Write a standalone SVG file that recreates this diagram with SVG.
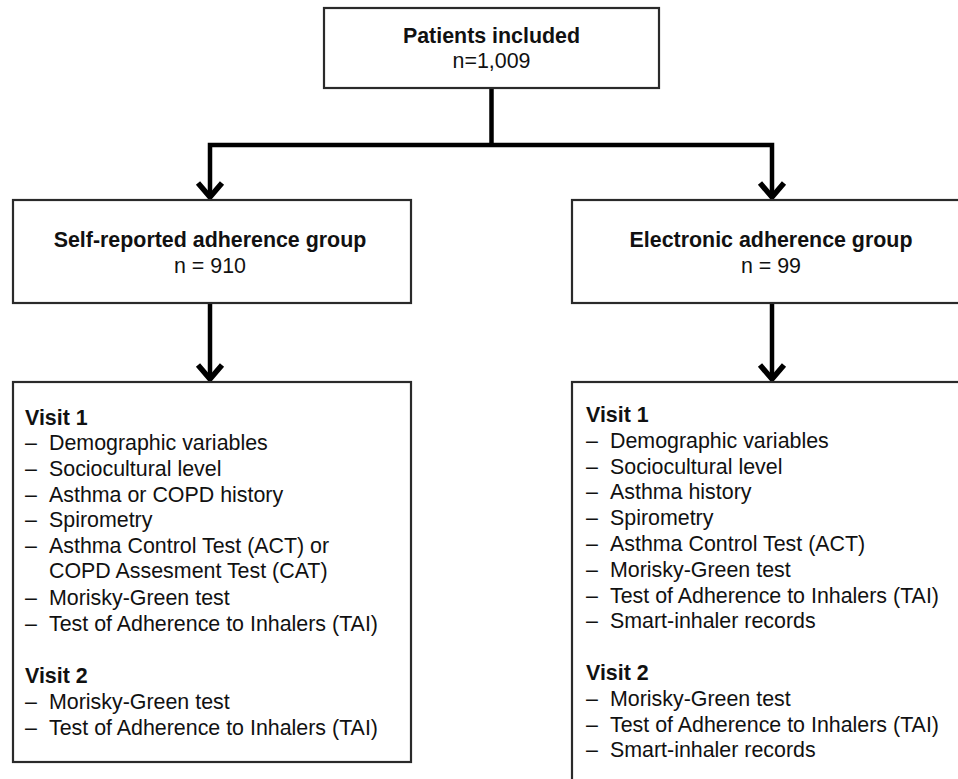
<svg xmlns="http://www.w3.org/2000/svg" width="958" height="779" viewBox="0 0 958 779">
<style>
.box{fill:#fff;stroke:#2a2a2a;stroke-width:2.2}
.t{font-family:"Liberation Sans",Arial,sans-serif;font-size:21.4px;fill:#111}
.b{font-weight:bold}
.c{text-anchor:middle}
.conn{fill:none;stroke:#000;stroke-width:4.5;stroke-linejoin:miter}
.ah{fill:none;stroke:#000;stroke-width:5.5;stroke-linejoin:miter;stroke-linecap:butt}
</style>
<rect width="958" height="779" fill="#fff"/>
<g id="connectors">
<path class="conn" d="M491.5 88 V145"/>
<path class="conn" d="M210 198 V145 H772 V198"/>
<path class="conn" d="M210 303 V380"/>
<path class="conn" d="M772 303 V380"/>
<path class="ah" d="M198 183 L210 197 L222 183"/>
<path class="ah" d="M760 183 L772 197 L784 183"/>
<path class="ah" d="M198 365 L210 379 L222 365"/>
<path class="ah" d="M760 365 L772 379 L784 365"/>
</g>
<g id="patients">
<rect class="box" x="324" y="8" width="335" height="80"/>
<text class="t b c" x="491.5" y="43">Patients included</text>
<text class="t c" x="491.5" y="68">n=1,009</text>
</g>
<g id="self-reported">
<rect class="box" x="13" y="200" width="398" height="103"/>
<text class="t b c" x="210" y="247">Self-reported adherence group</text>
<text class="t c" x="210" y="273">n = 910</text>
</g>
<g id="electronic">
<rect class="box" x="572" y="200" width="400" height="103"/>
<text class="t b c" x="771" y="247">Electronic adherence group</text>
<text class="t c" x="771" y="273">n = 99</text>
</g>
<g id="self-visits">
<rect class="box" x="13" y="382" width="398" height="380"/>
<text class="t b" x="25" y="425">Visit 1</text>
<g class="t">
<text x="25" y="450">–</text><text x="49" y="450">Demographic variables</text>
<text x="25" y="476">–</text><text x="49" y="476">Sociocultural level</text>
<text x="25" y="502">–</text><text x="49" y="502">Asthma or COPD history</text>
<text x="25" y="527">–</text><text x="49" y="527">Spirometry</text>
<text x="25" y="553">–</text><text x="49" y="553">Asthma Control Test (ACT) or</text>
<text x="49" y="578">COPD Assesment Test (CAT)</text>
<text x="25" y="605">–</text><text x="49" y="605">Morisky-Green test</text>
<text x="25" y="631">–</text><text x="49" y="631">Test of Adherence to Inhalers (TAI)</text>
</g>
<text class="t b" x="25" y="683">Visit 2</text>
<g class="t">
<text x="25" y="709">–</text><text x="49" y="709">Morisky-Green test</text>
<text x="25" y="735">–</text><text x="49" y="735">Test of Adherence to Inhalers (TAI)</text>
</g>
</g>
<g id="electronic-visits">
<rect class="box" x="572" y="382" width="400" height="420"/>
<text class="t b" x="586" y="422">Visit 1</text>
<g class="t">
<text x="586" y="448">–</text><text x="610" y="448">Demographic variables</text>
<text x="586" y="474">–</text><text x="610" y="474">Sociocultural level</text>
<text x="586" y="499">–</text><text x="610" y="499">Asthma history</text>
<text x="586" y="525">–</text><text x="610" y="525">Spirometry</text>
<text x="586" y="551">–</text><text x="610" y="551">Asthma Control Test (ACT)</text>
<text x="586" y="577">–</text><text x="610" y="577">Morisky-Green test</text>
<text x="586" y="603">–</text><text x="610" y="603">Test of Adherence to Inhalers (TAI)</text>
<text x="586" y="628">–</text><text x="610" y="628">Smart-inhaler records</text>
</g>
<text class="t b" x="586" y="680">Visit 2</text>
<g class="t">
<text x="586" y="706">–</text><text x="610" y="706">Morisky-Green test</text>
<text x="586" y="732">–</text><text x="610" y="732">Test of Adherence to Inhalers (TAI)</text>
<text x="586" y="757">–</text><text x="610" y="757">Smart-inhaler records</text>
</g>
</g>
</svg>
